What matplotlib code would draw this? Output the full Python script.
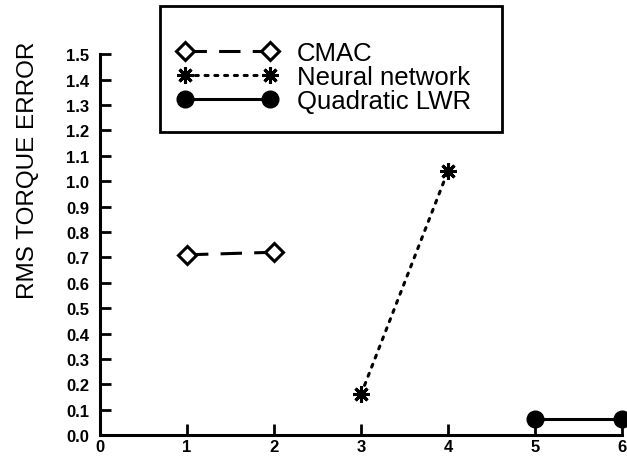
import matplotlib
matplotlib.use('Agg')

import matplotlib.pyplot as plt
from matplotlib.patches import Rectangle


FIGURE_SIZE = (6.27, 4.6)  # In inches, at 100 dpi

# Values
cmac_x = [1, 2]
cmac_y = [0.71, 0.72]
nn_x = [3, 4]
nn_y = [0.16, 1.04]
lwr_x = [5, 6]
lwr_y = [0.065, 0.065]

series_labels = ['CMAC', 'Neural network', 'Quadratic LWR']
x_ticks = [0, 1, 2, 3, 4, 5, 6]
y_ticks = [i / 10 for i in range(16)]


def configure_matplotlib():
    matplotlib.rc('font', family=['Liberation Sans', 'DejaVu Sans'])
    matplotlib.rc('axes', linewidth=2.2)


def plot_errors():
    fig = plt.figure(figsize=FIGURE_SIZE, dpi=100)
    ax = fig.add_axes([0.1595, 0.052, 0.8325, 0.828])

    ax.plot(cmac_x, cmac_y, color='black', lw=2.2, dashes=(7, 4),
            marker='D', markersize=9, markerfacecolor='white',
            markeredgewidth=2.2, clip_on=False, label=series_labels[0])
    ax.plot(nn_x, nn_y, color='black', lw=2.2, linestyle=(0, (1, 2.2)),
            dash_capstyle='round',
            marker=(8, 2, 0), markersize=12, markeredgewidth=2.2,
            clip_on=False, label=series_labels[1])
    ax.plot(lwr_x, lwr_y, color='black', lw=2.2, linestyle='-',
            marker='o', markersize=12, clip_on=False, label=series_labels[2])

    ax.set_xlim(0, 6)
    ax.set_ylim(0, 1.5)
    ax.set_xticks(x_ticks)
    ax.set_yticks(y_ticks)
    ax.set_xticklabels([str(x) for x in x_ticks])
    ax.set_yticklabels(['%.1f' % y for y in y_ticks])
    ax.tick_params(direction='in', length=8, width=2, labelsize=12)
    ax.tick_params(axis='y', pad=8)
    ax.tick_params(axis='x', pad=3)
    for lbl in ax.get_xticklabels() + ax.get_yticklabels():
        lbl.set_fontweight('bold')

    for side in ('top', 'right'):
        ax.spines[side].set_visible(False)

    # Axis title sits high up, not centred on the axis
    fig.text(28 / 627, 0.63, 'RMS TORQUE ERROR', rotation=90,
             ha='center', va='center', fontsize=17.5)

    # Legend frame is taller than its content, so it is drawn separately
    fig.patches.append(Rectangle((0.255, 0.711), 0.5455, 0.274,
                                 transform=fig.transFigure, fill=False,
                                 edgecolor='black', linewidth=2))
    fig.legend(loc='center', bbox_to_anchor=(0.517, 0.8315),
               numpoints=2, handlelength=3.9, fontsize=18.5,
               frameon=False, borderpad=0, labelspacing=0,
               handletextpad=0.75, borderaxespad=0)

    fig.savefig('out.png', dpi=100)
    plt.close(fig)


def main():
    configure_matplotlib()
    plot_errors()


if __name__ == '__main__':
    main()
